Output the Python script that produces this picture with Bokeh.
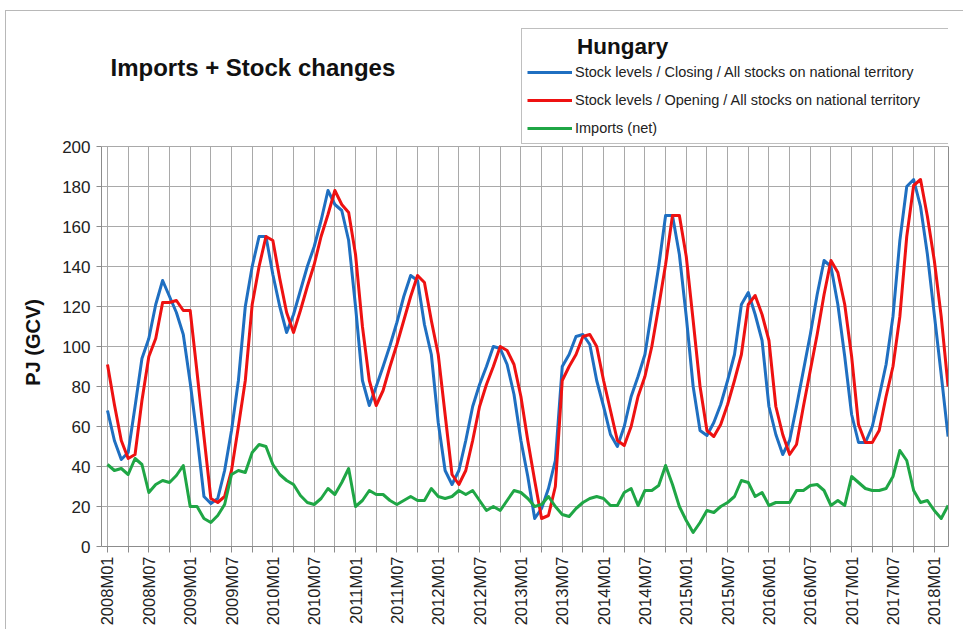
import math
from bokeh.plotting import figure
from bokeh.models import Range1d, FixedTicker, Legend, LegendItem, Label, LinearAxis
from bokeh.embed import file_html
from bokeh.resources import INLINE

# Monthly values, 2008M01 .. 2018M03 (PJ, GCV)
closing = [68, 53, 43.5, 47, 70, 94, 104, 121, 133, 125,
           117, 106, 82, 55, 25, 21.5, 24, 38, 58, 83,
           120, 140, 155, 155, 136, 120, 107, 116, 128, 140,
           150, 163, 178, 171, 168, 153, 120, 83, 70.5, 80,
           90, 100.5, 112, 125, 135.5, 133, 111, 96, 62, 38,
           31, 38, 53, 70, 81, 90, 100, 99, 91, 76,
           53, 35, 14, 19, 29, 43, 90, 96, 105, 106,
           101, 83, 70, 56, 50, 60, 75, 85, 96, 118,
           140, 165.5, 165.5, 146, 115, 80, 58, 55.5, 62, 71,
           83, 96, 121, 127, 116, 103, 70, 56, 46, 53,
           70, 88, 106, 126, 143, 140, 121, 95, 66, 52,
           52, 60, 75, 91, 115, 153, 180, 183.5, 170, 146,
           116, 86, 55]
opening = [91, 71, 53, 44, 46, 73, 95, 104, 122, 122,
           123, 118, 118, 87, 55, 24, 22, 25, 38, 60,
           83, 121, 140, 155, 153, 134, 117, 107, 118, 130,
           141, 155, 166, 178, 171, 167, 146, 110, 83, 70.5,
           78, 90, 101, 113, 125, 135.5, 132, 113, 96, 66,
           36, 31, 38, 53, 70, 81, 90, 100, 98, 91,
           75, 53, 33, 14, 15.5, 30, 83, 90, 96, 105,
           106, 100, 83, 68, 53, 50.5, 60, 75, 85, 100,
           120, 141, 165.5, 165.5, 145, 113, 80, 58, 55, 61,
           71, 83, 96, 121, 125.5, 116, 103, 70, 56, 46,
           51, 70, 88, 106, 126, 143, 137, 121, 95, 61,
           52, 52, 58, 75, 90, 115, 155, 180.5, 183.5, 165,
           143, 115, 80]
imports_net = [41, 38, 39, 36, 44, 41, 27, 31, 33, 32,
               35.5, 40.5, 20, 20, 14, 12, 15.5, 21, 36, 38,
               37, 47, 51, 50, 41, 36, 33, 31, 25.5, 22,
               21, 24, 29, 26, 32, 39, 20, 23, 28, 26,
               26, 23, 21, 23, 25, 23, 23, 29, 25, 24,
               25, 28, 26, 28, 23, 18, 20, 18, 23, 28,
               27, 24, 20, 21, 25, 20, 16, 15, 19, 22,
               24, 25, 24, 20.5, 20.5, 27, 29, 20.5, 28, 28,
               30.5, 40.5, 31, 20, 13, 7, 12, 18, 17, 20,
               22, 25, 33, 32, 25, 27, 20.5, 22, 22, 22,
               28, 28, 30.5, 31, 28, 20.5, 23, 20.5, 35, 32,
               29, 28, 28, 29, 35, 48, 43, 28, 22, 23,
               18, 14, 20.5]

start_year = 2008
months = [f"{start_year + k // 12}M{k % 12 + 1:02d}" for k in range(len(closing))]
x = list(range(len(months)))
label_idx = list(range(0, len(months), 6))
minor_idx = list(range(3, len(months), 6))
tick_labels = {i: months[i] for i in label_idx}
y_ticks = list(range(0, 201, 20))
y_max = 200

series_names = ["Stock levels / Closing / All stocks on national territory",
                "Stock levels / Opening / All stocks on national territory",
                "Imports (net)"]
colors = ["#1f6fc1", "#ee1111", "#1fa645"]

FONT = "Liberation Sans"
GRID = "#a9a9a9"
AXIS = "#8c8c8c"
NBSP = "\u00a0"

p = figure(width=963, height=629, output_backend="svg", toolbar_location=None,
           title=None,
           x_range=Range1d(-0.87, 122.06), y_range=Range1d(0, 268),
           min_border_left=101, min_border_right=15, min_border_top=10,
           min_border_bottom=83)
# transparent canvas so the chart-area frame (thin grey border) drawn by CSS shows
p.background_fill_alpha = 0
p.border_fill_alpha = 0
p.styles = {"background": (
    "linear-gradient(#b8b8b8, #b8b8b8) 5px 10px / 958px 1px no-repeat, "
    "linear-gradient(#b8b8b8, #b8b8b8) 5px 10px / 1px 619px no-repeat, white")}
p.outline_line_color = None

ticker = FixedTicker(ticks=label_idx, minor_ticks=minor_idx)
p.xaxis.ticker = ticker
p.xgrid.ticker = ticker
p.xaxis.major_label_overrides = tick_labels
p.xaxis.major_label_orientation = math.pi / 2
p.xaxis.major_label_text_font = FONT
p.xaxis.major_label_text_font_size = "16.5px"
p.xaxis.major_label_text_color = "#222222"
p.xaxis.major_label_standoff = 4
p.xaxis.major_tick_in = 0
p.xaxis.major_tick_out = 6
p.xaxis.minor_tick_in = 0
p.xaxis.minor_tick_out = 6
p.xaxis.major_tick_line_color = AXIS
p.xaxis.minor_tick_line_color = AXIS
p.xaxis.axis_line_color = AXIS

p.yaxis.ticker = FixedTicker(ticks=y_ticks)
p.yaxis.bounds = (0, y_max)
p.yaxis.major_label_text_font = FONT
p.yaxis.major_label_text_font_size = "17px"
p.yaxis.major_label_text_color = "#222222"
p.yaxis.major_tick_in = 0
p.yaxis.major_tick_out = 5
p.yaxis.major_label_standoff = 6
p.yaxis.minor_tick_line_color = None
p.yaxis.major_tick_line_color = AXIS
p.yaxis.axis_line_color = AXIS
# trailing no-break spaces shift the label down to the centre of the 0-200 band
p.yaxis.axis_label = "PJ (GCV)" + NBSP * 23
p.yaxis.axis_label_text_font = FONT
p.yaxis.axis_label_text_font_style = "bold"
p.yaxis.axis_label_text_font_size = "20px"
p.yaxis.axis_label_text_color = "#111111"
p.yaxis.axis_label_standoff = 15

right_axis = LinearAxis(ticker=FixedTicker(ticks=[]), bounds=(0, y_max),
                        axis_line_color=AXIS, major_tick_line_color=None,
                        minor_tick_line_color=None, major_label_text_font_size="0px",
                        major_label_standoff=0)
p.add_layout(right_axis, "right")

p.xgrid.grid_line_color = GRID
p.xgrid.minor_grid_line_color = GRID
p.xgrid.cross_bounds = (0, y_max)
p.ygrid.ticker = FixedTicker(ticks=y_ticks)
p.ygrid.grid_line_color = GRID
p.xgrid.grid_line_width = 1
p.ygrid.grid_line_width = 1

renderers = []
for vals, col in zip([closing, opening, imports_net], colors):
    r = p.line(x, vals, line_color=col, line_width=3, line_join="round")
    renderers.append(r)

legend = Legend(
    items=[LegendItem(label=n, renderers=[r]) for n, r in zip(series_names, renderers)],
    location=(420, 402),
    title=NBSP * 8 + "Hungary",
    title_text_font=FONT, title_text_font_size="22.5px", title_text_font_style="bold",
    title_text_color="#111111", title_standoff=2,
    label_text_font=FONT, label_text_font_size="14.5px", label_text_color="#222222",
    label_height=20, glyph_height=20, glyph_width=45, label_standoff=3,
    label_width=369, spacing=8, padding=5, margin=0,
    border_line_color="#7f7f7f", border_line_width=1,
    background_fill_color="white", background_fill_alpha=1.0,
)
p.add_layout(legend)

title = Label(x=9, y=479, x_units="screen", y_units="screen",
              text="Imports + Stock changes", text_font=FONT,
              text_font_size="24px", text_font_style="bold",
              text_color="#111111", text_baseline="middle")
p.add_layout(title)

open("out.html", "w").write(file_html(p, INLINE))
